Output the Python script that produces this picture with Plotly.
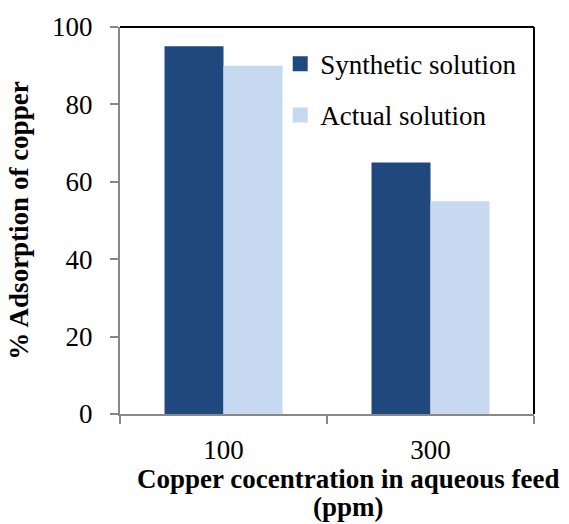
import plotly.graph_objects as go

categories = ["100", "300"]
synthetic = [95, 65]
actual = [90, 55]
y_ticks = [0, 20, 40, 60, 80, 100]
series_names = ["Synthetic solution", "Actual solution"]
colors = ["#1F497D", "#C6D9F1"]

FONT = "Liberation Serif"
FS = 27
fig = go.Figure()
for name, vals, col in zip(series_names, [synthetic, actual], colors):
    fig.add_trace(go.Bar(x=categories, y=vals, name=name, showlegend=False,
                         marker=dict(color=col, line=dict(width=0))))
for i, (name, col) in enumerate(zip(series_names, colors)):
    fig.add_trace(go.Scatter(x=[None], y=[None], mode="markers", name=name,
                             legendgroup=str(i),
                             marker=dict(symbol="square", size=15, color=col)))

fig.update_layout(
    width=569, height=524,
    margin=dict(l=120, r=35, t=22, b=110),
    paper_bgcolor="white", plot_bgcolor="white",
    barmode="group", bargap=0.43, bargroupgap=0,
    font=dict(family=FONT, size=FS, color="black"),
    showlegend=True,
    legend=dict(x=0.387, y=0.967, xanchor="left", yanchor="top",
                bgcolor="rgba(0,0,0,0)", font=dict(size=FS, family=FONT),
                tracegroupgap=13, itemwidth=30),
    xaxis=dict(type="category", showline=True, linecolor="#888888", linewidth=2,
               ticks="outside", tickson="boundaries", ticklen=8, tickcolor="#888888",
               tickwidth=1.5, tickfont=dict(size=FS, family=FONT), showgrid=False,
               zeroline=False, ticklabelstandoff=11),
    yaxis=dict(range=[0, 100], tickvals=y_ticks, showline=True, linecolor="#888888",
               linewidth=2, ticks="outside", ticklen=8, tickcolor="#888888",
               tickwidth=1.5, tickfont=dict(size=FS, family=FONT), showgrid=False,
               zeroline=False, ticklabelstandoff=12),
)
fig.add_shape(type="line", xref="paper", yref="paper", x0=0, x1=1, y0=1, y1=1,
              line=dict(color="black", width=2))
fig.add_shape(type="line", xref="paper", yref="paper", x0=1, x1=1, y0=0, y1=1,
              line=dict(color="black", width=2))
fig.add_annotation(text="<b>% Adsorption of copper</b>", textangle=-90,
                   xref="paper", yref="paper", x=-0.246, y=0.5, xanchor="center",
                   yanchor="middle", showarrow=False, font=dict(size=FS, family=FONT))
fig.add_annotation(text="<b>Copper cocentration in aqueous feed</b>",
                   xref="paper", yref="paper", x=0.553, y=-0.168, xanchor="center",
                   yanchor="middle", showarrow=False, font=dict(size=FS, family=FONT))
fig.add_annotation(text="<b>(ppm)</b>",
                   xref="paper", yref="paper", x=0.553, y=-0.2415, xanchor="center",
                   yanchor="middle", showarrow=False, font=dict(size=FS, family=FONT))
fig.write_html("out.html")
